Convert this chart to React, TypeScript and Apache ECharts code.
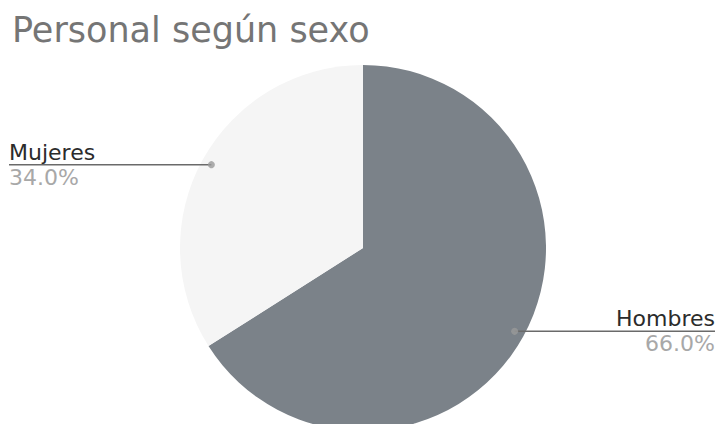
import React, { useEffect, useRef } from "react";
import * as echarts from "echarts";

const titleText = "Personal según sexo";
const categories = ["Hombres", "Mujeres"];
const values = [66, 34];
const sliceColors = ["#7b8289", "#f5f5f5"];

export default function App() {
  const ref = useRef<HTMLDivElement>(null);
  useEffect(() => {
    document.body.style.margin = "0";
    const chart = echarts.init(ref.current!, null, { renderer: "svg" });
    const total = values.reduce((a, b) => a + b, 0);
    let acc = 0;
    const mids = values.map((v) => {
      const m = ((acc + v / 2) / total) * 100;
      acc += v;
      return m;
    });
    const center = [363, 248];
    const R = 183;
    const rLabel = 173;
    const font = "DejaVu Sans";
    const edgeDistances = [4, 9];
    chart.setOption({
      animation: false,
      title: {
        text: titleText,
        left: 7,
        top: 7,
        textStyle: { fontFamily: font, fontSize: 35, fontWeight: "normal", color: "#757575" },
      },
      polar: { center, radius: R },
      angleAxis: { type: "value", min: 0, max: 100, startAngle: 90, clockwise: true, show: false },
      radiusAxis: { type: "value", min: 0, max: R, show: false },
      series: [
        {
          type: "pie",
          center,
          radius: R,
          silent: true,
          label: { show: false },
          labelLine: { show: false },
          emphasis: { disabled: true },
          data: categories.map((c, i) => ({ name: c, value: values[i], itemStyle: { color: sliceColors[i] } })),
          z: 1,
        },
        {
          type: "pie",
          center,
          radius: rLabel,
          silent: true,
          itemStyle: { color: "rgba(0,0,0,0)" },
          emphasis: { disabled: true },
          label: {
            show: true,
            position: "outside",
            alignTo: "edge",
            edgeDistance: 9,
            formatter: (p: any) => `{n|${p.name}}\n{v|${p.percent.toFixed(1)}%}`,
            rich: {
              n: { fontFamily: font, fontSize: 22, color: "#2b2b2b", lineHeight: 25 },
              v: { fontFamily: font, fontSize: 22, color: "#a8a8a8", lineHeight: 25 },
            },
          },
          labelLine: { show: true, length: 0, length2: 20, lineStyle: { color: "#6a6a6a", width: 1.5 } },
          labelLayout: (params: any) => {
            const pts = params.labelLinePoints;
            if (!pts) return {};
            const r = params.labelRect;
            const isLeft = pts[pts.length - 1][0] < pts[0][0];
            const endX = isLeft ? r.x : r.x + r.width;
            return { labelLinePoints: [pts[0], [endX, pts[0][1]]] };
          },
          data: categories.map((c, i) => ({ name: c, value: values[i], label: { edgeDistance: edgeDistances[i] } })),
          z: 2,
        },
        {
          type: "scatter",
          coordinateSystem: "polar",
          symbol: "circle",
          symbolSize: 7,
          silent: true,
          itemStyle: { color: "#9a9a9a" },
          data: mids.map((m) => [rLabel, m]),
          z: 3,
        },
      ],
    });
    return () => chart.dispose();
  }, []);
  return <div ref={ref} style={{ width: 719, height: 424 }} />;
}
